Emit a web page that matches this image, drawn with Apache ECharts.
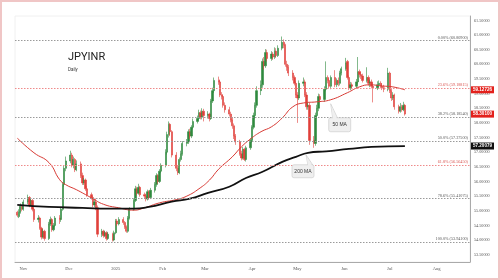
<!DOCTYPE html>
<html>
<head>
<meta charset="utf-8">
<script src="https://cdn.jsdelivr.net/npm/echarts@6/dist/echarts.min.js"></script>
<style>
  html, body { margin: 0; padding: 0; background: #fff; }
  #chart { width: 500px; height: 280px; }
</style>
</head>
<body>
<div id="chart"></div>
<script>
// daily candles, Mon-Fri from 2024-10-28, one row per week
var opens = [
  54.95, 54.80, 54.95, 55.15, 55.05,
  55.30, 55.45, 55.20, 55.35, 55.05,
  54.70, 54.75, 54.40, 54.10, 54.30,
  54.05, 54.55, 54.70, 54.35, 54.50,
  54.75, 54.70, 55.05, 55.90, 56.45,
  56.70, 56.90, 56.55, 56.75, 56.40,
  56.60, 56.20, 55.95, 56.05, 55.75,
  55.55, 55.45, 55.20, 55.30, 55.10,
  54.20, 54.30, 54.15, 54.25, 54.05,
  54.20, 54.00, 54.25, 54.65, 54.55,
  54.70, 54.60, 54.45, 54.30, 54.75,
  55.05, 55.35, 55.75, 55.60, 55.80,
  55.55, 55.50, 55.40, 55.65, 55.45,
  55.70, 55.90, 56.20, 56.00, 56.35,
  56.55, 57.00, 57.60, 57.95, 57.70,
  56.90, 56.45, 56.30, 56.75, 56.95,
  57.30, 57.35, 57.70, 57.55, 57.85,
  58.05, 58.15, 58.35, 58.20, 58.40,
  58.25, 58.30, 58.15, 58.75, 59.10,
  59.45, 59.40, 58.95, 58.90, 58.60,
  58.45, 58.30, 58.10, 57.90, 57.55,
  57.35, 56.95, 56.80, 57.10, 56.75,
  57.15, 57.40, 57.85, 58.25, 58.60,
  59.10, 59.30, 60.10, 59.95, 60.40,
  60.20, 60.35, 60.25, 60.45, 60.30,
  60.55, 60.75, 60.65, 60.00, 59.90,
  59.70, 59.55, 59.35, 58.95, 58.85,
  59.35, 59.40, 58.95, 58.55, 58.60,
  57.40, 57.30, 58.25, 58.50, 58.90,
  58.80, 59.15, 59.55, 59.45, 59.25,
  59.55, 59.30, 59.45, 59.35, 59.70,
  59.85, 60.10, 59.55, 59.20, 59.30,
  59.25, 59.40, 59.75, 59.65, 59.60,
  59.45, 59.55, 59.35, 59.40, 59.25,
  59.20, 59.30, 59.35, 59.25, 59.20,
  59.15, 59.70, 59.10, 58.85, 58.95,
  58.55, 58.40, 58.55, 58.45, 58.60
];
var closes = [
  54.85, 54.95, 55.15, 55.05, 55.30,
  55.45, 55.20, 55.35, 55.05, 54.70,
  54.75, 54.40, 54.10, 54.30, 54.05,
  54.55, 54.70, 54.35, 54.50, 54.75,
  54.70, 55.05, 55.90, 56.45, 56.70,
  56.90, 56.55, 56.75, 56.40, 56.60,
  56.20, 55.95, 56.05, 55.75, 55.55,
  55.45, 55.20, 55.30, 55.10, 54.20,
  54.30, 54.15, 54.25, 54.05, 54.20,
  54.00, 54.25, 54.65, 54.55, 54.70,
  54.60, 54.45, 54.30, 54.75, 55.05,
  55.35, 55.75, 55.60, 55.80, 55.55,
  55.50, 55.40, 55.65, 55.45, 55.70,
  55.90, 56.20, 56.00, 56.35, 56.55,
  57.00, 57.60, 57.95, 57.70, 56.90,
  56.45, 56.30, 56.75, 56.95, 57.30,
  57.35, 57.70, 57.55, 57.85, 58.05,
  58.15, 58.35, 58.20, 58.40, 58.25,
  58.30, 58.15, 58.75, 59.10, 59.45,
  59.40, 58.95, 58.90, 58.60, 58.45,
  58.30, 58.10, 57.90, 57.55, 57.35,
  56.95, 56.80, 57.10, 56.75, 57.15,
  57.40, 57.85, 58.25, 58.60, 59.10,
  59.30, 60.10, 59.95, 60.40, 60.20,
  60.35, 60.25, 60.45, 60.30, 60.55,
  60.75, 60.65, 60.00, 59.90, 59.70,
  59.55, 59.35, 58.95, 58.85, 59.35,
  59.40, 58.95, 58.55, 58.60, 57.40,
  57.30, 58.25, 58.50, 58.90, 58.80,
  59.15, 59.55, 59.45, 59.25, 59.55,
  59.30, 59.45, 59.35, 59.70, 59.85,
  60.05, 59.55, 59.20, 59.30, 59.25,
  59.40, 59.75, 59.65, 59.60, 59.45,
  59.55, 59.35, 59.40, 59.25, 59.20,
  59.30, 59.35, 59.25, 59.20, 59.15,
  59.70, 59.10, 58.85, 58.95, 58.55,
  58.40, 58.55, 58.45, 58.60, 58.30
];
var lows = [
  54.78, 54.75, 54.90, 54.98, 55.00,
  55.22, 55.12, 55.15, 54.98, 54.62,
  54.60, 54.35, 54.02, 54.05, 53.98,
  54.00, 54.48, 54.28, 54.30, 54.45,
  54.55, 54.62, 55.00, 55.82, 56.35,
  56.62, 56.48, 56.45, 56.32, 56.35,
  56.12, 55.88, 55.88, 55.68, 55.48,
  55.38, 55.12, 55.12, 55.02, 54.10,
  54.10, 54.08, 54.10, 53.98, 54.00,
  53.95, 53.96, 54.20, 54.48, 54.50,
  54.52, 54.38, 54.25, 54.25, 54.70,
  55.00, 55.30, 55.52, 55.55, 55.48,
  55.42, 55.32, 55.35, 55.38, 55.40,
  55.62, 55.82, 55.92, 55.95, 56.28,
  56.48, 56.92, 57.50, 57.55, 56.82,
  56.35, 56.22, 56.25, 56.68, 56.88,
  57.20, 57.28, 57.45, 57.48, 57.78,
  57.98, 58.08, 58.12, 58.12, 58.05,
  58.15, 58.05, 58.10, 58.68, 59.02,
  59.30, 58.88, 58.80, 58.52, 58.35,
  58.22, 58.02, 57.80, 57.45, 57.25,
  56.88, 56.72, 56.75, 56.70, 56.68,
  57.08, 57.32, 57.78, 58.15, 58.52,
  58.95, 59.20, 59.82, 59.88, 60.10,
  60.12, 60.15, 60.18, 60.22, 60.25,
  60.48, 60.55, 59.92, 59.78, 59.60,
  59.45, 59.28, 58.85, 58.00, 58.78,
  59.25, 58.88, 58.45, 58.45, 57.25,
  57.15, 57.22, 58.15, 58.40, 58.70,
  58.72, 59.08, 59.35, 59.18, 59.15,
  59.22, 59.22, 59.25, 59.28, 59.62,
  59.78, 59.48, 59.12, 59.12, 59.15,
  59.18, 59.32, 59.55, 59.50, 59.38,
  59.38, 59.28, 59.22, 59.18, 58.70,
  59.12, 59.22, 59.18, 59.12, 59.05,
  59.08, 59.02, 58.75, 58.78, 58.45,
  58.32, 58.35, 58.38, 58.40, 58.25
];
var highs = [
  55.00, 55.05, 55.25, 55.20, 55.38,
  55.55, 55.50, 55.42, 55.40, 55.10,
  54.85, 54.80, 54.45, 54.38, 54.35,
  54.62, 54.80, 54.75, 54.58, 54.82,
  54.85, 55.12, 55.98, 56.55, 56.85,
  57.05, 56.98, 56.85, 56.80, 56.72,
  56.68, 56.30, 56.12, 56.10, 55.85,
  55.62, 55.50, 55.38, 55.42, 55.18,
  54.38, 54.35, 54.32, 54.30, 54.28,
  54.25, 54.32, 54.72, 54.72, 54.78,
  54.78, 54.65, 54.50, 54.82, 55.12,
  55.42, 55.85, 55.82, 55.92, 55.85,
  55.62, 55.58, 55.72, 55.70, 55.78,
  55.98, 56.28, 56.25, 56.42, 56.62,
  57.10, 57.70, 58.05, 58.00, 57.75,
  57.00, 56.55, 56.82, 57.05, 57.38,
  57.45, 57.78, 57.80, 57.92, 58.15,
  58.25, 58.45, 58.42, 58.50, 58.48,
  58.40, 58.35, 58.82, 59.20, 59.55,
  59.58, 59.48, 59.05, 58.98, 58.70,
  58.55, 58.38, 58.20, 57.98, 57.62,
  57.42, 57.05, 57.18, 57.15, 57.22,
  57.48, 57.92, 58.35, 58.70, 59.25,
  59.45, 60.20, 60.25, 60.52, 60.50,
  60.45, 60.42, 60.58, 60.55, 60.65,
  60.95, 60.85, 60.70, 60.12, 59.98,
  59.80, 59.62, 59.42, 59.05, 59.45,
  59.55, 59.48, 59.05, 58.70, 58.68,
  57.55, 58.35, 58.62, 59.00, 58.98,
  59.25, 60.10, 59.62, 59.52, 59.62,
  59.80, 59.52, 59.55, 59.78, 59.92,
  60.22, 60.15, 59.62, 59.40, 59.38,
  59.50, 60.25, 59.82, 59.75, 59.68,
  59.90, 59.62, 59.48, 59.48, 59.35,
  59.42, 59.45, 59.42, 59.35, 59.30,
  59.88, 59.75, 59.18, 59.05, 59.00,
  58.62, 58.68, 58.62, 58.72, 58.65
];

var ma50Dates = ['2024-10-28','2024-11-08','2024-11-18','2024-11-25','2024-11-29','2024-12-06','2024-12-16','2024-12-24',
  '2025-01-03','2025-01-13','2025-01-20','2025-01-30','2025-02-10','2025-02-17','2025-02-25','2025-03-04','2025-03-10',
  '2025-03-19','2025-03-25','2025-03-31','2025-04-07','2025-04-14','2025-04-21','2025-04-28','2025-05-05','2025-05-14',
  '2025-05-23','2025-06-03','2025-06-11','2025-06-18','2025-06-26','2025-07-03','2025-07-11'];
var ma50Values = [57.48, 56.98, 56.64, 56.06, 55.89, 55.72, 55.44, 55.22,
  55.10, 55.02, 55.10, 55.27, 55.38, 55.50, 55.75, 56.05, 56.42,
  56.84, 57.18, 57.45, 57.70, 57.87, 58.17, 58.55, 58.68, 58.72,
  58.79, 59.03, 59.23, 59.30, 59.26, 59.23, 59.13];

var ma200Dates = ['2024-10-28','2024-11-18','2024-12-10','2024-12-27','2025-01-13','2025-01-23','2025-02-07','2025-02-19',
  '2025-03-03','2025-03-17','2025-03-28','2025-04-08','2025-04-21','2025-04-30','2025-05-08','2025-05-20','2025-06-04',
  '2025-06-19','2025-07-11'];
var ma200Values = [55.20, 55.13, 55.10, 55.07, 55.07, 55.13, 55.31, 55.41,
  55.61, 55.82, 56.12, 56.33, 56.67, 56.84, 56.98, 57.03, 57.11,
  57.18, 57.21];

var fibNames = ['0.00%', '23.6%', '38.2%', '50.0%', '61.8%', '78.6%', '100.0%'];
var fibLevels = [60.80900, 59.18815, 58.18540, 57.37500, 56.56450, 55.41075, 53.94100];
var fibRed = [false, true, false, false, true, false, false];

var monthNames = ['Jan','Feb','Mar','Apr','May','Jun','Jul','Aug','Sep','Oct','Nov','Dec'];

function pad(n) { return n < 10 ? '0' + n : '' + n }
var days = [];
for (var w = 0; w < 37; w++) {
  for (var d = 0; d < 5; d++) {
    var t = new Date(2024, 9, 28 + w * 7 + d);
    days.push(t.getFullYear() + '-' + pad(t.getMonth() + 1) + '-' + pad(t.getDate()));
  }
}

var candles = [];
for (var i = 0; i < days.length; i++) {
  candles.push([days[i], opens[i], closes[i], lows[i], highs[i]]);
}
var ma50 = ma50Dates.map(function (d, i) { return [d, ma50Values[i]] });
var ma200 = ma200Dates.map(function (d, i) { return [d, ma200Values[i]] });

var fibLines = fibLevels.map(function (v, i) {
  return {
    yAxis: v,
    lineStyle: { color: fibRed[i] ? '#ef8a8a' : '#9a9a9a', type: [1.5, 1.5], width: 1 },
    label: {
      show: true,
      position: 'insideEndTop',
      distance: [2, 1],
      formatter: fibNames[i] + ' (' + v.toFixed(5) + ')',
      color: fibRed[i] ? '#d9534f' : '#555',
      fontSize: 4.2,
      fontFamily: 'Liberation Serif'
    }
  }
});

var myChart = echarts.init(document.getElementById('chart'));
var option = {
  animation: false,
  backgroundColor: '#fff',
  grid: { left: 15, right: 30, top: 16, bottom: 18, show: true, borderColor: '#f0f0f0', borderWidth: 1 },
  title: {
    text: 'JPYINR',
    subtext: 'Daily',
    left: 63,
    top: 47,
    itemGap: 4,
    textStyle: { fontFamily: 'Roboto', fontSize: 11, fontWeight: 'normal', color: '#222' },
    subtextStyle: { fontFamily: 'Roboto', fontSize: 4.5, color: '#333' }
  },
  xAxis: {
    type: 'time',
    min: new Date(2024, 9, 26, 12).getTime(),
    max: new Date(2025, 7, 23).getTime(),
    minInterval: 28 * 86400000,
    maxInterval: 31 * 86400000,
    axisLine: { lineStyle: { color: '#aaa', width: 1 } },
    axisTick: { show: false },
    splitLine: { show: false },
    axisLabel: {
      fontSize: 4.5,
      color: '#555',
      margin: 4,
      fontFamily: 'Liberation Serif',
      formatter: function (value) {
        var dt = new Date(value);
        return dt.getMonth() === 0 ? '' + dt.getFullYear() : monthNames[dt.getMonth()];
      }
    }
  },
  yAxis: {
    type: 'value',
    position: 'right',
    scale: true,
    min: 53.25,
    max: 61.65,
    interval: 0.25,
    axisLine: { show: true, lineStyle: { color: '#aaa', width: 1 } },
    axisTick: { show: false },
    splitLine: { show: false },
    axisLabel: {
      fontSize: 4.2,
      color: '#555',
      margin: 4,
      fontFamily: 'Liberation Serif',
      showMinLabel: false,
      showMaxLabel: false,
      formatter: function (v) {
        if (Math.abs(v * 2 - Math.round(v * 2)) > 1e-6) return '';
        return v.toFixed(5);
      }
    }
  },
  series: [
    {
      type: 'candlestick',
      data: candles,
      barWidth: 1.8,
      itemStyle: {
        color: '#2f8a3e',
        color0: '#e0403a',
        borderColor: '#2f8a3e',
        borderColor0: '#e0403a',
        borderWidth: 0.6
      },
      markLine: {
        silent: true,
        symbol: 'none',
        data: fibLines
      },
      z: 3
    },
    {
      type: 'line',
      data: ma50,
      smooth: true,
      showSymbol: false,
      lineStyle: { color: '#d83a34', width: 1 },
      z: 4
    },
    {
      type: 'line',
      data: ma200,
      smooth: true,
      showSymbol: false,
      lineStyle: { color: '#111', width: 1.8 },
      z: 4
    }
  ]
};
myChart.setOption(option);

// price tags on the right axis and MA callouts
function px(date, v) { return myChart.convertToPixel({ gridIndex: 0 }, [date, v]) }
function yOf(v) { return myChart.convertToPixel({ yAxisIndex: 0 }, v) }

var axisX = 470;
var tags = [
  { v: ma50Values[ma50Values.length - 1], text: '59.12726', bg: '#e3211c' },
  { v: closes[closes.length - 1], text: '58.30100', bg: '#e3211c' },
  { v: ma200Values[ma200Values.length - 1], text: '57.20079', bg: '#111' }
];
var graphics = [];
tags.forEach(function (t) {
  var y = yOf(t.v);
  graphics.push({
    type: 'rect', shape: { x: axisX + 1, y: y - 3.5, width: 23, height: 7 },
    style: { fill: t.bg }, z: 100
  });
  graphics.push({
    type: 'text', x: axisX + 12.5, y: y,
    style: { text: t.text, fill: '#fff', fontSize: 4.5, fontFamily: 'Liberation Sans', fontWeight: 'bold', align: 'center', verticalAlign: 'middle' },
    z: 101
  });
});

function callout(tip, bx, by, w, h, label) {
  graphics.push({
    type: 'polygon',
    shape: { points: [[tip[0], tip[1]], [tip[0] + 2, by + 0.5], [tip[0] + 7, by + 0.5]] },
    style: { fill: '#efefef', stroke: '#c8c8c8', lineWidth: 0.6 }, z: 90
  });
  graphics.push({
    type: 'rect', shape: { x: bx, y: by, width: w, height: h, r: 2 },
    style: { fill: '#efefef', stroke: '#c8c8c8', lineWidth: 0.6 }, z: 91
  });
  graphics.push({
    type: 'polygon',
    shape: { points: [[tip[0] + 0.6, tip[1] + 2], [tip[0] + 2.3, by + 1.2], [tip[0] + 6.3, by + 1.2]] },
    style: { fill: '#efefef' }, z: 92
  });
  graphics.push({
    type: 'text', x: bx + w / 2, y: by + h / 2,
    style: { text: label, fill: '#333', fontSize: 5, fontFamily: 'Liberation Sans', align: 'center', verticalAlign: 'middle' },
    z: 93
  });
}
var p50 = px('2025-05-23', 58.79);
callout([p50[0], p50[1] + 4], p50[0] - 2, p50[1] + 18, 22, 14, '50 MA');
var p200 = px('2025-05-08', 56.98);
callout([p200[0] - 2, p200[1] + 2], p200[0] - 16, p200[1] + 12, 22, 13, '200 MA');

graphics.push({
  type: 'rect', shape: { x: 1, y: 1, width: 498, height: 278 },
  style: { fill: 'none', stroke: '#f0c6c6', lineWidth: 2 }, z: 120
});
myChart.setOption({ graphic: graphics });
</script>
</body>
</html>
